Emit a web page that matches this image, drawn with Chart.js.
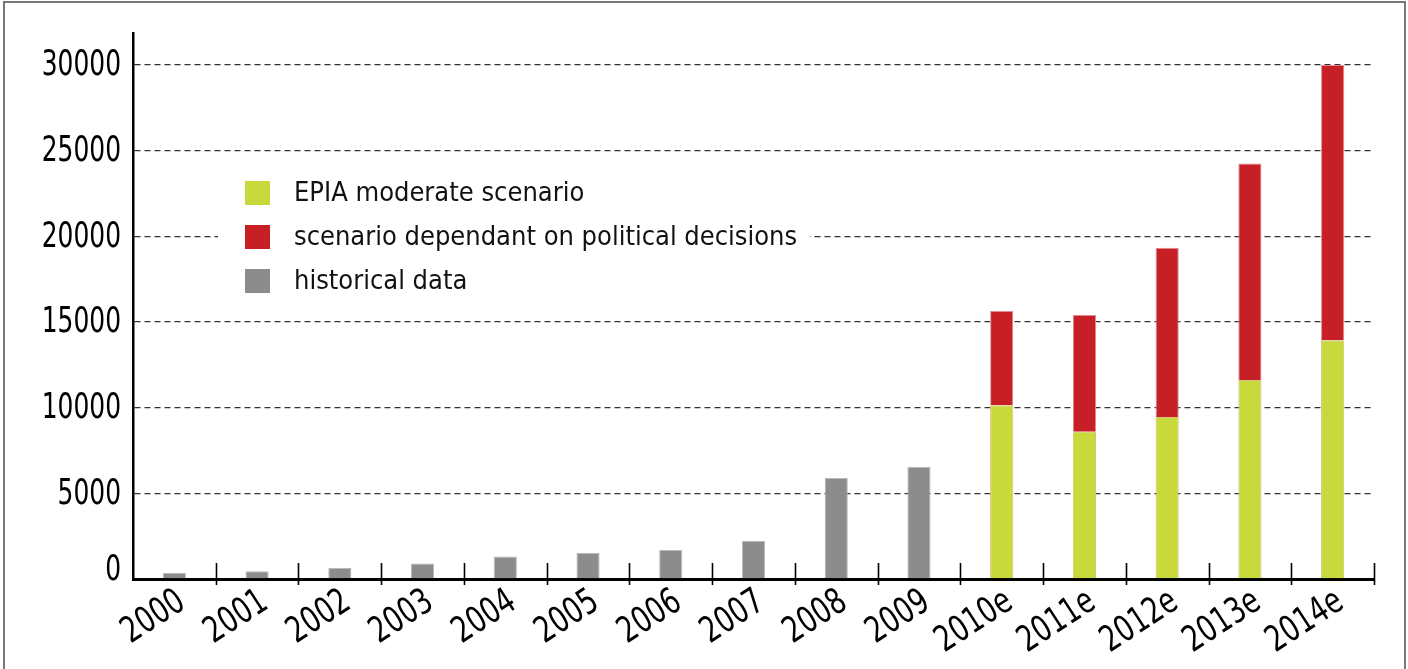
<!DOCTYPE html>
<html>
<head>
<meta charset="utf-8">
<script src="https://cdn.jsdelivr.net/npm/chart.js@4.4.1/dist/chart.umd.min.js"></script>
<style>
  html, body { margin: 0; padding: 0; background: #fff; }
  #wrap { position: relative; width: 1408px; height: 669px; overflow: hidden; }
  #frame { position: absolute; left: 3px; top: 1px; width: 1403px; height: 720px; border: 2px solid #777; box-sizing: border-box; pointer-events: none; }
  #chart { position: absolute; left: 0; top: 0; }
</style>
</head>
<body>
<div id="wrap">
  <canvas id="chart" width="1408" height="669"></canvas>
  <div id="frame"></div>
</div>
<script>
  const years = ['2000', '2001', '2002', '2003', '2004', '2005', '2006', '2007', '2008', '2009',
    '2010e', '2011e', '2012e', '2013e', '2014e'];
  const historical = [350, 450, 640, 900, 1320, 1520, 1690, 2220, 5900, 6540, null, null, null, null, null];
  const moderate = [null, null, null, null, null, null, null, null, null, null, 10140, 8600, 9450, 11620, 13930];
  const political = [null, null, null, null, null, null, null, null, null, null, 5500, 6810, 9890, 12640, 16070];
  const yTicks = [0, 5000, 10000, 15000, 20000, 25000, 30000];

  const FONT = "'Liberation Sans Narrow', 'DejaVu Sans Condensed', sans-serif";

  // legend drawn over the plot, with a white patch that hides the grid behind it
  const boxLegendPlugin = {
    id: 'boxLegend',
    afterDraw: function (chart) {
      const opts = chart.options.plugins.boxLegend;
      if (!opts) return;
      const ctx = chart.ctx;
      ctx.save();
      ctx.fillStyle = '#fff';
      ctx.fillRect(opts.left, opts.top, opts.width, opts.height);
      ctx.font = opts.font;
      ctx.textBaseline = 'middle';
      ctx.textAlign = 'left';
      opts.order.forEach(function (dsIndex, row) {
        const ds = chart.data.datasets[dsIndex];
        const y = opts.firstRow + row * opts.rowGap;
        ctx.fillStyle = ds.backgroundColor;
        ctx.fillRect(opts.boxX, y - 12, 25, 24);
        ctx.fillStyle = '#111';
        ctx.fillText(ds.label, opts.textX, y + 1);
      });
      ctx.restore();
    }
  };

  // tick marks between categories that cross the x axis line
  const categoryTicksPlugin = {
    id: 'categoryTicks',
    afterDraw: function (chart) {
      const x = chart.scales.x;
      const base = chart.chartArea.bottom;
      const half = (x.getPixelForValue(1) - x.getPixelForValue(0)) / 2;
      const ctx = chart.ctx;
      ctx.save();
      ctx.strokeStyle = '#000';
      ctx.lineWidth = 1.6;
      ctx.beginPath();
      for (let i = 0; i < years.length; i++) {
        const px = Math.round(x.getPixelForValue(i) + half) + 0.5;
        ctx.moveTo(px, base - 16);
        ctx.lineTo(px, base + 6);
      }
      ctx.stroke();
      ctx.restore();
    }
  };

  // narrow tick labels: the condensed face squeezed a bit more, as in the print
  const narrowLabelsPlugin = {
    id: 'narrowLabels',
    afterDraw: function (chart) {
      const ctx = chart.ctx;
      const xs = chart.scales.x;
      const ys = chart.scales.y;
      const bottom = chart.chartArea.bottom;
      ctx.save();
      ctx.fillStyle = '#000';
      ctx.font = '36px ' + FONT;

      ctx.textAlign = 'right';
      ctx.textBaseline = 'middle';
      ys.ticks.forEach(function (t) {
        const py = Math.min(ys.getPixelForValue(t.value), bottom - 9);
        ctx.save();
        ctx.translate(121, py + 1);
        ctx.scale(0.77, 1);
        ctx.fillText(String(t.value), 0, 0);
        ctx.restore();
      });

      ctx.textAlign = 'right';
      ctx.textBaseline = 'top';
      years.forEach(function (label, i) {
        const px = xs.getPixelForValue(i);
        ctx.save();
        ctx.translate(px - 2, bottom + 5);
        ctx.rotate(-33 * Math.PI / 180);
        ctx.scale(0.82, 1);
        ctx.fillText(label, 0, 0);
        ctx.restore();
      });
      ctx.restore();
    }
  };

  const ctx = document.getElementById('chart').getContext('2d');
  new Chart(ctx, {
    type: 'bar',
    data: {
      labels: years,
      datasets: [
        {
          label: 'historical data',
          data: historical,
          backgroundColor: '#8c8c8c',
          borderColor: '#b9b9b9',
          borderWidth: 1
        },
        {
          label: 'EPIA moderate scenario',
          data: moderate,
          backgroundColor: '#c8da3b',
          borderColor: '#d6c27a',
          borderWidth: 1
        },
        {
          label: 'scenario dependant on political decisions',
          data: political,
          backgroundColor: '#c61f26',
          borderColor: '#e48a8e',
          borderWidth: 1
        }
      ]
    },
    options: {
      responsive: false,
      animation: false,
      layout: { padding: { left: 0, right: 34, top: 33, bottom: 0 } },
      datasets: {
        bar: { categoryPercentage: 1, barPercentage: 0.28 }
      },
      scales: {
        x: {
          stacked: true,
          grid: { display: false },
          border: { display: true, color: '#000', width: 3 },
          ticks: { display: false },
          afterFit: function (scale) { scale.height = 90; }
        },
        y: {
          stacked: true,
          min: 0,
          max: 31870,
          afterBuildTicks: function (axis) {
            axis.ticks = yTicks.map(function (v) { return { value: v }; });
          },
          grid: {
            drawTicks: false,
            color: function (c) { return c.tick && c.tick.value === 0 ? 'rgba(0,0,0,0)' : '#333'; },
            lineWidth: 1.3
          },
          border: { display: true, color: '#000', width: 2.5, dash: [6, 4] },
          ticks: { display: false },
          afterFit: function (scale) { scale.width = 133; }
        }
      },
      plugins: {
        legend: { display: false },
        tooltip: { enabled: false },
        boxLegend: {
          left: 218, top: 170, width: 592, height: 132,
          boxX: 245, textX: 294, firstRow: 193, rowGap: 44,
          font: '27px ' + FONT,
          order: [1, 2, 0]
        }
      }
    },
    plugins: [boxLegendPlugin, categoryTicksPlugin, narrowLabelsPlugin]
  });
</script>
</body>
</html>
